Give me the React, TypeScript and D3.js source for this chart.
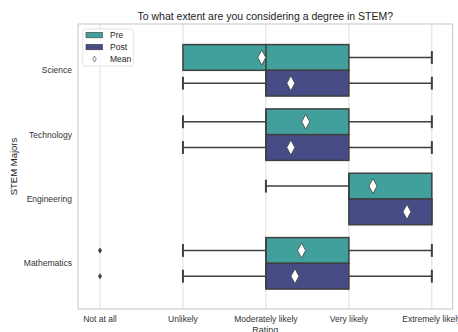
import React from "react";
import * as d3 from "d3";

const majors = ["Science", "Technology", "Engineering", "Mathematics"];
const ratingLabels = ["Not at all", "Unlikely", "Moderately likely", "Very likely", "Extremely likely"];
const groups = ["Pre", "Post"];

// five-number summaries per major, [whiskerLow, q1, median, q3, whiskerHigh]
const preStats = [
  [1, 1, 2, 3, 4],
  [1, 2, 2, 3, 4],
  [2, 3, 3, 4, 4],
  [1, 2, 2, 3, 4],
];
const postStats = [
  [1, 2, 2, 3, 4],
  [1, 2, 2, 3, 4],
  [3, 3, 4, 4, 4],
  [1, 2, 2, 3, 4],
];
const preMeans = [1.95, 2.48, 3.29, 2.43];
const postMeans = [2.3, 2.3, 3.7, 2.35];
const preOutliers = [[], [], [], [0]];
const postOutliers = [[], [], [], [0]];

const colors = ["#42a09c", "#474c86"];
const edge = "#3f3f3f";
const font = "'Liberation Sans', Arial, sans-serif";

export default function App() {
  const W = 458, H = 332;
  const left = 78, right = 452.6, top = 24, bottom = 309;
  const x = d3.scaleLinear().domain([-0.265, 4.25]).range([left, right]);
  const y = d3.scaleLinear().domain([-0.72, 3.71]).range([top, bottom]);
  const band = y(1) - y(0);
  const boxH = band * 0.8 / 2;
  const capH = boxH / 2;

  const stats = [preStats, postStats];
  const means = [preMeans, postMeans];
  const outliers = [preOutliers, postOutliers];

  const diamond = (cx: number, cy: number, w: number, h: number) =>
    `M${cx},${cy - h / 2}L${cx + w / 2},${cy}L${cx},${cy + h / 2}L${cx - w / 2},${cy}Z`;

  return (
    <svg width={W} height={H} style={{ position: "absolute", left: 0, top: 0 }}>
      <rect width={W} height={H} fill="#fff" />
      {ratingLabels.map((_, i) => (
        <line key={i} x1={x(i)} x2={x(i)} y1={top} y2={bottom} stroke="#dedede" strokeWidth={1} />
      ))}
      {majors.map((m, mi) =>
        groups.map((g, gi) => {
          const s = stats[gi][mi];
          const cy = y(mi) + (gi === 0 ? -boxH / 2 : boxH / 2);
          return (
            <g key={m + g}>
              {s[0] < s[1] && (
                <>
                  <line x1={x(s[0])} x2={x(s[1])} y1={cy} y2={cy} stroke={edge} strokeWidth={1.5} />
                  <line x1={x(s[0])} x2={x(s[0])} y1={cy - capH / 2} y2={cy + capH / 2} stroke={edge} strokeWidth={2} />
                </>
              )}
              {s[4] > s[3] && (
                <>
                  <line x1={x(s[3])} x2={x(s[4])} y1={cy} y2={cy} stroke={edge} strokeWidth={1.5} />
                  <line x1={x(s[4])} x2={x(s[4])} y1={cy - capH / 2} y2={cy + capH / 2} stroke={edge} strokeWidth={2} />
                </>
              )}
              <rect x={x(s[1])} y={cy - boxH / 2} width={x(s[3]) - x(s[1])} height={boxH}
                fill={colors[gi]} stroke={edge} strokeWidth={1.5} />
              <line x1={x(s[2])} x2={x(s[2])} y1={cy - boxH / 2} y2={cy + boxH / 2} stroke={edge} strokeWidth={1.5} />
              {outliers[gi][mi].map((o, oi) => (
                <path key={oi} d={diamond(x(o), cy, 4, 6)} fill={edge} />
              ))}
              <path d={diamond(x(means[gi][mi]), cy, 8, 15)} fill="#fff" stroke={edge} strokeWidth={0.8} />
            </g>
          );
        })
      )}
      <rect x={left} y={top} width={right - left} height={bottom - top} fill="none" stroke="#cfcfcf" strokeWidth={1.2} />
      {/* legend */}
      <g>
        <rect x={82.7} y={29} width={50.6} height={37} rx={2} fill="#fff" fillOpacity={0.85} stroke="#dcdcdc" strokeWidth={0.8} />
        {groups.map((g, gi) => (
          <g key={g}>
            <rect x={86} y={32.3 + gi * 12} width={16.5} height={5.5} fill={colors[gi]} stroke={edge} strokeWidth={0.6} />
            <text x={110} y={38.3 + gi * 12} fontSize={8.5} fontFamily={font} fill="#222">{g}</text>
          </g>
        ))}
        <path d={diamond(94.5, 59, 3.5, 6)} fill="#fff" stroke={edge} strokeWidth={0.6} />
        <text x={110} y={62} fontSize={8.5} fontFamily={font} fill="#222">Mean</text>
      </g>
      {majors.map((m, mi) => (
        <text key={m} x={72} y={y(mi) + 3} textAnchor="end" fontSize={8.5} fontFamily={font} fill="#333">{m}</text>
      ))}
      {ratingLabels.map((r, i) => (
        <text key={r} x={x(i)} y={322} textAnchor="middle" fontSize={8.5} fontFamily={font} fill="#333">{r}</text>
      ))}
      <text x={(left + right) / 2} y={333} textAnchor="middle" fontSize={9} fontFamily={font} fill="#333">Rating</text>
      <text transform={`translate(17,${(top + bottom) / 2}) rotate(-90)`} textAnchor="middle" fontSize={9.5} fontFamily={font} fill="#222">STEM Majors</text>
      <text x={(left + right) / 2} y={20} textAnchor="middle" fontSize={10.5} fontFamily={font} fill="#222">To what extent are you considering a degree in STEM?</text>
    </svg>
  );
}
